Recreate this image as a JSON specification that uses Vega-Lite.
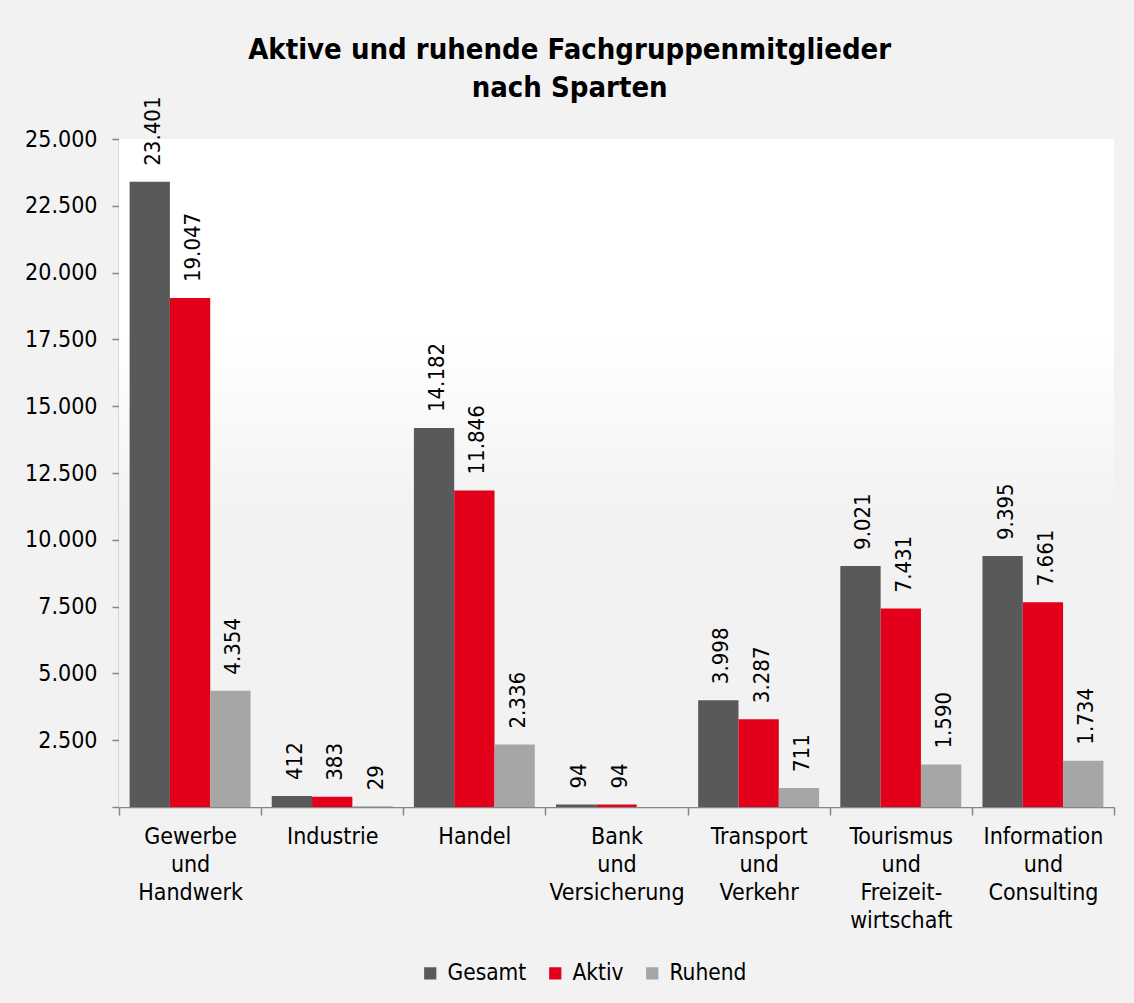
{
  "$schema": "https://vega.github.io/schema/vega-lite/v6.json",
  "width": 995,
  "height": 668,
  "autosize": {"type": "none"},
  "padding": {"left": 119, "top": 139, "right": 20, "bottom": 196},
  "background": "#f2f2f2",
  "title": {
    "text": ["Aktive und ruhende Fachgruppenmitglieder", "nach Sparten"],
    "fontSize": 29,
    "fontWeight": "bold",
    "font": "DejaVu Sans Condensed",
    "color": "black",
    "anchor": "middle",
    "frame": "bounds",
    "lineHeight": 38,
    "offset": -7
  },
  "config": {
    "locale": {
      "number": {"decimal": ",", "thousands": ".", "grouping": [3], "currency": ["", " €"]}
    },
    "font": "DejaVu Sans Condensed",
    "view": {"stroke": null},
    "axis": {
      "domainColor": "#878787",
      "tickColor": "#878787",
      "domainWidth": 1.5,
      "tickWidth": 1.5,
      "labelColor": "black",
      "labelFont": "DejaVu Sans Condensed",
      "grid": false,
      "title": null
    }
  },
  "data": {
    "values": [
      {"Sparte": "Gewerbe und Handwerk", "Gruppe": "Gesamt", "value": 23401},
      {"Sparte": "Gewerbe und Handwerk", "Gruppe": "Aktiv", "value": 19047},
      {"Sparte": "Gewerbe und Handwerk", "Gruppe": "Ruhend", "value": 4354},
      {"Sparte": "Industrie", "Gruppe": "Gesamt", "value": 412},
      {"Sparte": "Industrie", "Gruppe": "Aktiv", "value": 383},
      {"Sparte": "Industrie", "Gruppe": "Ruhend", "value": 29},
      {"Sparte": "Handel", "Gruppe": "Gesamt", "value": 14182},
      {"Sparte": "Handel", "Gruppe": "Aktiv", "value": 11846},
      {"Sparte": "Handel", "Gruppe": "Ruhend", "value": 2336},
      {"Sparte": "Bank und Versicherung", "Gruppe": "Gesamt", "value": 94},
      {"Sparte": "Bank und Versicherung", "Gruppe": "Aktiv", "value": 94},
      {"Sparte": "Bank und Versicherung", "Gruppe": "Ruhend", "value": 0},
      {"Sparte": "Transport und Verkehr", "Gruppe": "Gesamt", "value": 3998},
      {"Sparte": "Transport und Verkehr", "Gruppe": "Aktiv", "value": 3287},
      {"Sparte": "Transport und Verkehr", "Gruppe": "Ruhend", "value": 711},
      {"Sparte": "Tourismus und Freizeitwirtschaft", "Gruppe": "Gesamt", "value": 9021},
      {"Sparte": "Tourismus und Freizeitwirtschaft", "Gruppe": "Aktiv", "value": 7431},
      {"Sparte": "Tourismus und Freizeitwirtschaft", "Gruppe": "Ruhend", "value": 1590},
      {"Sparte": "Information und Consulting", "Gruppe": "Gesamt", "value": 9395},
      {"Sparte": "Information und Consulting", "Gruppe": "Aktiv", "value": 7661},
      {"Sparte": "Information und Consulting", "Gruppe": "Ruhend", "value": 1734}
    ]
  },
  "encoding": {
    "x": {
      "field": "Sparte",
      "type": "nominal",
      "sort": null,
      "scale": {"paddingInner": 0, "paddingOuter": 0},
      "axis": {
        "tickBand": "extent",
        "tickSize": 8,
        "labelAngle": 0,
        "labelPadding": 10,
        "labelFontSize": 23,
        "labelLineHeight": 28,
        "labelBaseline": "top",
        "labelLimit": 300,
        "labelExpr": "datum.label == 'Tourismus und Freizeitwirtschaft' ? ['Tourismus', 'und', 'Freizeit-', 'wirtschaft'] : split(datum.label, ' ')"
      }
    },
    "xOffset": {
      "field": "Gruppe",
      "sort": ["Gesamt", "Aktiv", "Ruhend"],
      "scale": {"paddingInner": 0, "paddingOuter": 0.263}
    },
    "y": {
      "field": "value",
      "type": "quantitative",
      "scale": {"domain": [0, 25000], "nice": false},
      "axis": {
        "values": [0, 2500, 5000, 7500, 10000, 12500, 15000, 17500, 20000, 22500, 25000],
        "format": ",d",
        "tickSize": 7,
        "labelPadding": 15,
        "labelFontSize": 23,
        "labelExpr": "datum.value == 0 ? '' : datum.label"
      }
    }
  },
  "layer": [
    {
      "data": {"values": [{}]},
      "mark": {
        "type": "rect",
        "fill": {
          "gradient": "linear",
          "x1": 0, "y1": 0, "x2": 0, "y2": 1,
          "stops": [
            {"offset": 0, "color": "#ffffff"},
            {"offset": 0.3, "color": "#ffffff"},
            {"offset": 0.56, "color": "#f2f2f2"},
            {"offset": 1, "color": "#f2f2f2"}
          ]
        }
      },
      "encoding": {"x": null, "xOffset": null, "y": null}
    },
    {
      "mark": {"type": "bar"},
      "encoding": {
        "color": {
          "field": "Gruppe",
          "type": "nominal",
          "scale": {"domain": ["Gesamt", "Aktiv", "Ruhend"], "range": ["#595959", "#e2001a", "#a6a6a6"]},
          "legend": {
            "orient": "none",
            "direction": "horizontal",
            "legendX": 300,
            "legendY": 823,
            "title": null,
            "padding": 0,
            "symbolType": "square",
            "symbolSize": 150,
            "symbolStrokeWidth": 0,
            "labelFontSize": 22.5,
            "labelColor": "black",
            "labelOffset": 6,
            "columnPadding": 17
          }
        }
      }
    },
    {
      "transform": [{"filter": "datum.value > 0"}],
      "mark": {"type": "text", "angle": 270, "align": "left", "baseline": "middle", "dx": 16, "dy": 3, "fontSize": 22, "color": "black"},
      "encoding": {
        "text": {"field": "value", "type": "quantitative", "format": ",d"}
      }
    }
  ]
}
